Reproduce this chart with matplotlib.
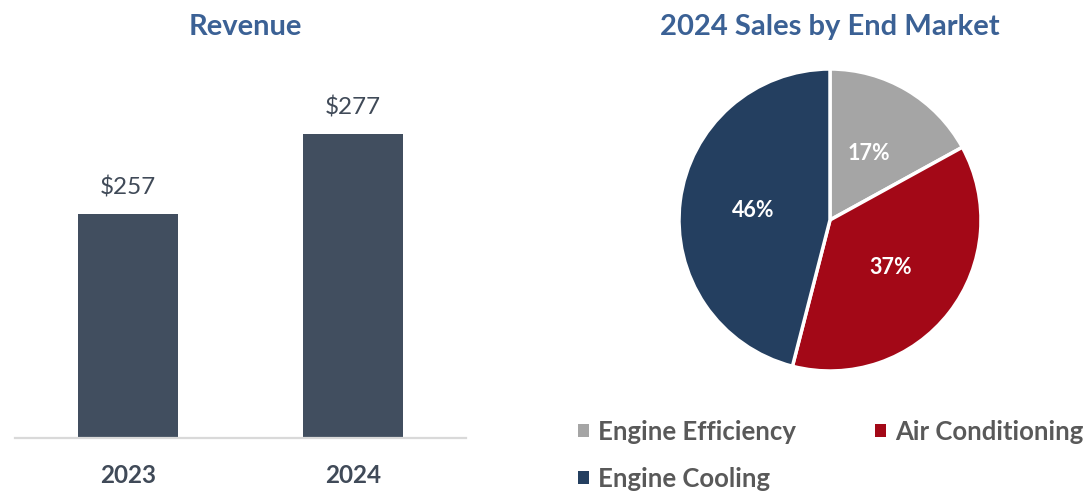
import numpy as np
import matplotlib.pyplot as plt
from matplotlib.patches import Patch

plt.rcParams['font.family'] = ['Lato', 'DejaVu Sans']

# Revenue data
years = ['2023', '2024']
revenue = [257, 277]

# End market split
markets = ['Engine Efficiency', 'Air Conditioning', 'Engine Cooling']
shares = [17, 37, 46]

bar_color = '#414e5f'
pie_colors = ['#a5a5a5', '#a30817', '#243f60']
title_color = '#3b6195'
text_dark = '#404a58'

W, H = 1089, 493
fig = plt.figure(figsize=(W / 100, H / 100), dpi=100)

# Bar chart: axes placed in pixel terms
ax = fig.add_axes([15 / W, (H - 438) / H, 451 / W, 368 / H])
x = np.arange(len(years))
bars = ax.bar(x, revenue, width=0.444, color=bar_color, zorder=2)
ax.set_xlim(-0.5, 1.5)
ax.set_ylim(201, 293)
for s in ['top', 'right', 'left']:
    ax.spines[s].set_visible(False)
ax.spines['bottom'].set_color('#d9d9d9')
ax.spines['bottom'].set_linewidth(1.6)
ax.set_yticks([])
ax.set_xticks(x)
ax.set_xticklabels(years, fontsize=17.5, fontweight='bold', color=text_dark)
ax.tick_params(axis='x', length=0, pad=18.5)
for b, v in zip(bars, revenue):
    ax.annotate(f'${v}', (b.get_x() + b.get_width() / 2, v), xytext=(0, 11.5),
                textcoords='offset points', ha='center', va='bottom',
                fontsize=17.5, color=text_dark)
fig.text(245 / W, 1 - 27 / H, 'Revenue', ha='center', va='center',
         fontsize=21, fontweight='bold', color=title_color)

# Pie chart
R = 151
ax2 = fig.add_axes([(830 - R) / W, (H - 220 - R) / H, 2 * R / W, 2 * R / H])
wedges, _, autotexts = ax2.pie(shares, colors=pie_colors, startangle=90,
                               counterclock=False, autopct='%d%%',
                               pctdistance=0.51,
                               wedgeprops=dict(edgecolor='white', linewidth=2.5))
for t in autotexts:
    t.set_color('white')
    t.set_fontsize(15.5)
    t.set_fontweight('bold')
ax2.set_xlim(-1.0, 1.0)
ax2.set_ylim(-1.0, 1.0)
fig.text(830 / W, 1 - 27 / H, '2024 Sales by End Market', ha='center',
         va='center', fontsize=21, fontweight='bold', color=title_color)

# legend filled row by row: matplotlib fills columns, so reorder
order = [0, 2, 1]
handles = [Patch(facecolor=pie_colors[i], edgecolor='none') for i in order]
labels = [markets[i] for i in order]
leg = fig.legend(handles, labels, loc='upper left',
                 bbox_to_anchor=(578 / W, 1 - 420 / H), ncol=2, frameon=False,
                 fontsize=18.5, handlelength=0.42, handleheight=0.42,
                 handletextpad=0.35, columnspacing=3.1, labelspacing=0.88,
                 borderaxespad=0, borderpad=0)
for t in leg.get_texts():
    t.set_color('#595959')
    t.set_fontweight('bold')

fig.savefig('out.png', dpi=100)
